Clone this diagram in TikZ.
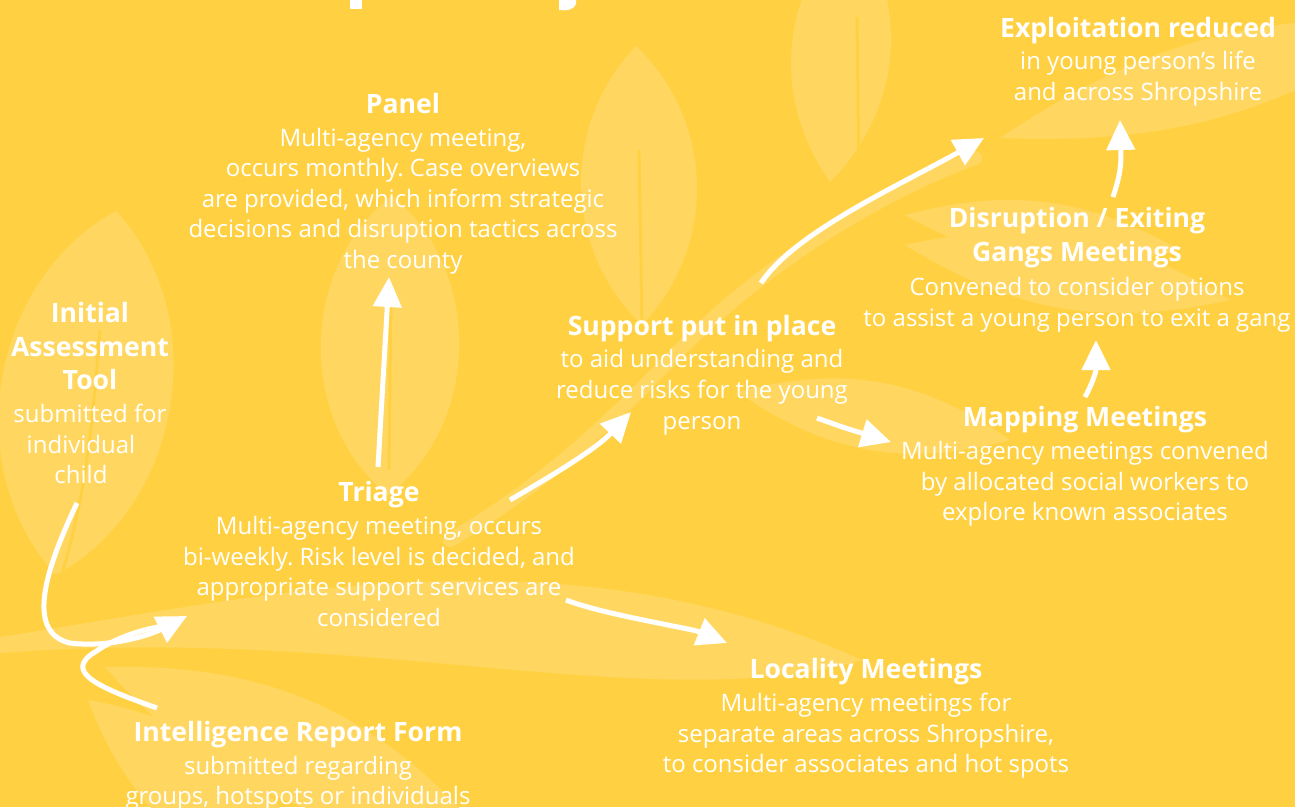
\documentclass[tikz,border=0pt]{standalone}
\usepackage{fontspec}
\setmainfont{Open Sans}
\usetikzlibrary{arrows.meta}
\definecolor{bg}{HTML}{FFD142}
\definecolor{leafc}{HTML}{FFD760}
\tikzset{
  head/.style={font=\fontsize{26.6}{34}\selectfont\bfseries, text=white, anchor=base, inner sep=0pt},
  body/.style={font=\fontsize{24}{30}\selectfont, text=white, anchor=base, inner sep=0pt},
  leaf/.style={fill=leafc},
  rib/.style={draw=bg, line width=3pt},
  flow/.style={draw=white, line width=5pt, -{Triangle[length=30pt,width=28pt]}},
  flowplain/.style={draw=white, line width=5pt},
}
\frenchspacing
\begin{document}
\begin{tikzpicture}[x=1pt,y=-1pt]
\useasboundingbox (0,0) rectangle (1295,807);
\fill[bg] (0,0) rectangle (1295,807);
% leaves
\fill[leaf] (116,211) to[bend left=52] (56,575) to[bend left=52] (116,211);
\draw[rib] (100,330) .. controls (92,430) and (85,500) .. (60,580);
\fill[leaf] (392,196) to[bend left=52] (388,495) to[bend left=52] (392,196);
\draw[rib] (391,300) .. controls (390,380) .. (389,470);
\fill[leaf] (636,46) to[bend left=45] (642,325) to[bend left=45] (636,46);
\draw[rib] (639,150) .. controls (640,240) .. (642,330);
\fill[leaf] (852,-80) to[bend left=40] (830,182) to[bend left=40] (852,-80);
\draw[rib] (857,17) .. controls (858,100) .. (859,170);
\fill[leaf] (1000,138) to[bend left=18] (1420,20) to[bend left=18] (1000,138);
\fill[leaf] (905,215) to[bend left=22] (1180,250) to[bend left=22] (905,215);
\fill[leaf] (905,245) to[bend left=22] (1230,300) to[bend left=22] (905,245);
\fill[leaf] (738,392) to[bend left=25] (1010,440) to[bend left=25] (738,392);
\fill[leaf] (-20,640) .. controls (250,600) and (550,520) .. (862,660) .. controls (650,720) and (350,620) .. (-20,655) -- cycle;
\fill[leaf] (105,667) to[bend left=25] (480,830) to[bend left=25] (105,667);
\fill[leaf] (88,700) to[bend left=30] (330,900) to[bend left=30] (88,700);
% stem under the arrows
\draw[leafc, line width=14pt, line cap=round] (450,540) .. controls (560,475) and (620,410) .. (690,340) .. controls (750,280) and (860,200) .. (975,158);
% title fragments
\fill[white] (350,0) rectangle (362,9);
\fill[white] (559,0) -- (576,0) -- (576,4) .. controls (574,10) and (566,11) .. (559,10) -- cycle;
% Panel
\node[head] (panelH) at (403,113) {Panel};
\node[body] (panel1) at (403,146) {Multi-agency meeting,};
\node[body] (panel2) at (403,176.5) {occurs monthly. Case overviews};
\node[body] (panel3) at (403,207) {are provided, which inform strategic};
\node[body] (panel4) at (403,237.5) {decisions and disruption tactics across};
\node[body] (panel5) at (403,268) {the county};
% Exploitation
\node[head] (explH) at (1138,37) {Exploitation reduced};
\node[body] (expl1) at (1138,69.5) {in young person’s life};
\node[body] (expl2) at (1138,100.5) {and across Shropshire};
% Initial
\node[head] (initH1) at (90,322) {Initial};
\node[head] (initH2) at (90,356) {Assessment};
\node[head] (initH3) at (90,389) {Tool};
\node[body] (init1) at (90,422) {submitted for};
\node[body] (init2) at (81,453) {individual};
\node[body] (init3) at (81,483) {child};
% Triage
\node[head] (triH) at (379,501) {Triage};
\node[body] (tri1) at (379,534) {Multi-agency meeting, occurs};
\node[body] (tri2) at (379,565) {bi-weekly. Risk level is decided, and};
\node[body] (tri3) at (379,595) {appropriate support services are};
\node[body] (tri4) at (379,626) {considered};
% Intelligence
\node[head] (intH) at (298,741) {Intelligence Report Form};
\node[body] (int1) at (298,774) {submitted regarding};
\node[body] (int2) at (298,804) {groups, hotspots or individuals};
% Support
\node[head] (supH) at (702,335) {Support put in place};
\node[body] (sup1) at (702,367) {to aid understanding and};
\node[body] (sup2) at (702,398) {reduce risks for the young};
\node[body] (sup3) at (702,429) {person};
% Locality
\node[head] (locH) at (866,678) {Locality Meetings};
\node[body] (loc1) at (866,711) {Multi-agency meetings for};
\node[body] (loc2) at (866,742) {separate areas across Shropshire,};
\node[body] (loc3) at (866,772) {to consider associates and hot spots};
% Mapping
\node[head] (mapH) at (1085,426) {Mapping Meetings};
\node[body] (map1) at (1085,459) {Multi-agency meetings convened};
\node[body] (map2) at (1085,490) {by allocated social workers to};
\node[body] (map3) at (1085,520) {explore known associates};
% Disruption
\node[head] (disH1) at (1077,227) {Disruption / Exiting};
\node[head] (disH2) at (1077,261) {Gangs Meetings};
\node[body] (dis1) at (1077,295) {Convened to consider options};
\node[body] (dis2) at (1077,326) {to assist a young person to exit a gang};
% connector end points
\coordinate (aInit) at (77,503);
\coordinate (aTri) at (187,616);
\coordinate (aInt) at (157,708);
\coordinate (aIntEnd) at (163,626);
\coordinate (bTri) at (378,467);
\coordinate (bPan) at (389,277);
\coordinate (cTri) at (510,500);
\coordinate (cSup) at (631,412);
\coordinate (dSup) at (761,283);
\coordinate (dExp) at (984,138);
\coordinate (eSup) at (817,418);
\coordinate (eMap) at (891,442);
\coordinate (fMap) at (1085,397);
\coordinate (fDis) at (1096,340);
\coordinate (gDis) at (1113,197);
\coordinate (gExp) at (1120,120);
\coordinate (hTri) at (566,600);
\coordinate (hLoc) at (727,643);
% connectors
\draw[flowplain] (aInt) .. controls (100,688) and (62,672) .. (95,652) .. controls (115,638) and (140,630) .. (aIntEnd);
\draw[flow] (aInit) .. controls (50,560) and (22,632) .. (70,643) .. controls (110,648) and (150,635) .. (aTri);
\draw[flow] (bTri) -- (bPan);
\draw[flow] (cTri) .. controls (548,478) and (595,450) .. (cSup);
\draw[flow] (dSup) .. controls (795,232) and (900,185) .. (dExp);
\draw[flow] (eSup) .. controls (845,428) .. (eMap);
\draw[flow] (fMap) .. controls (1093,382) and (1096,372) .. (fDis);
\draw[flow] (gDis) .. controls (1122,170) and (1121,160) .. (gExp);
\draw[flow] (hTri) .. controls (605,615) and (690,628) .. (hLoc);
\end{tikzpicture}
\end{document}
